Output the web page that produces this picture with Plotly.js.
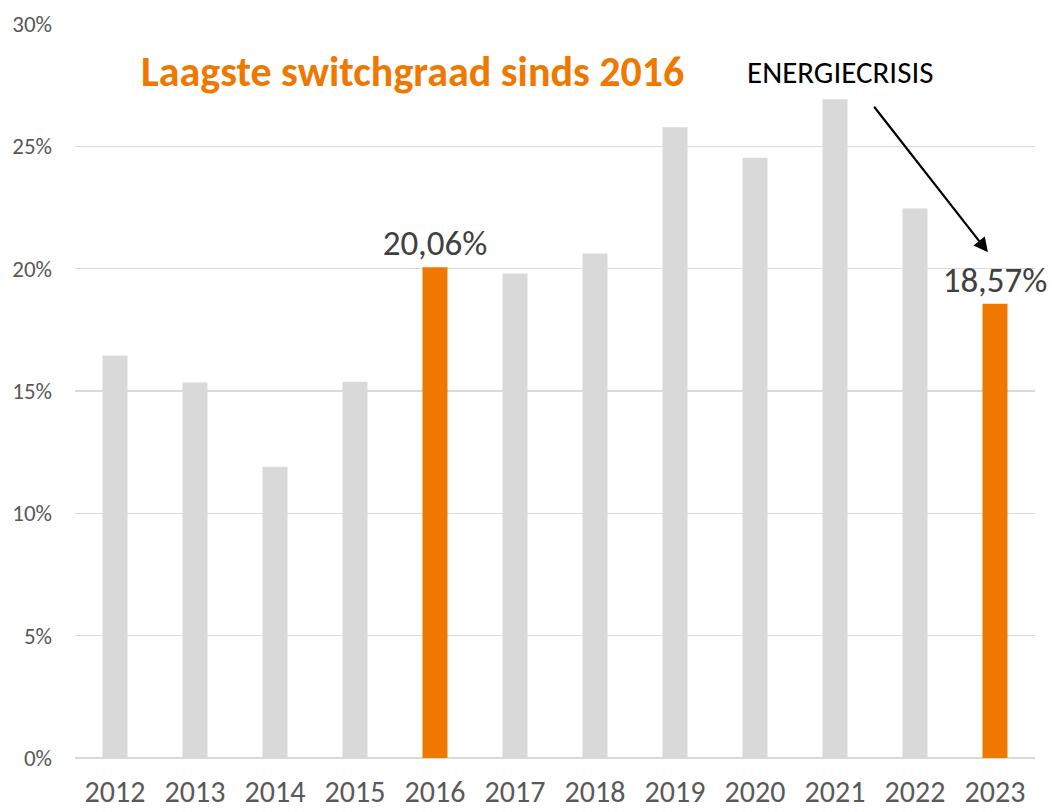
<!DOCTYPE html>
<html>
<head>
<meta charset="utf-8">
<script src="https://cdn.plot.ly/plotly-3.0.1.min.js"></script>
<style>html,body{margin:0;padding:0;background:#fff;}#chart{width:1053px;height:812px;}</style>
</head>
<body>
<div id="chart"></div>
<script>
const years = ['2012','2013','2014','2015','2016','2017','2018','2019','2020','2021','2022','2023'];
const switchRate = [16.45, 15.35, 11.9, 15.38, 20.06, 19.8, 20.62, 25.78, 24.53, 26.92, 22.46, 18.57];
const highlighted = ['2016', '2023'];
const titleText = 'Laagste switchgraad sinds 2016';
const noteText = 'ENERGIECRISIS';
const yTicks = [0, 5, 10, 15, 20, 25, 30];
const yTickLabels = ['0%', '5%', '10%', '15%', '20%', '25%', '30%'];

const ORANGE = '#ee7800';
const GREY = '#d9d9d9';
const FONT = 'Carlito, Calibri, Lato, sans-serif';

const colors = years.map(y => highlighted.includes(y) ? ORANGE : GREY);
const labels = years.map((y, i) => highlighted.includes(y) ? switchRate[i].toFixed(2).replace('.', ',') + '%' : '');

const trace = {
  type: 'bar',
  x: years,
  y: switchRate,
  marker: {color: colors},
  text: labels,
  textposition: 'outside',
  constraintext: 'none',
  textfont: {family: FONT, size: 35, color: '#404040'},
  cliponaxis: false,
  hoverinfo: 'none'
};

const layout = {
  width: 1053, height: 812,
  margin: {l: 75, r: 18, t: 24, b: 54},
  paper_bgcolor: '#fff', plot_bgcolor: '#fff',
  bargap: 0.6875,
  showlegend: false,
  font: {family: FONT, color: '#595959'},
  xaxis: {
    type: 'category',
    tickfont: {family: FONT, size: 30, color: '#595959'},
    showgrid: false, zeroline: false, showline: false, ticks: '',
    ticklabelstandoff: 13
  },
  yaxis: {
    range: [0, 30],
    tickvals: yTicks, ticktext: yTickLabels,
    tickfont: {family: FONT, size: 23, color: '#595959'},
    showgrid: true, gridcolor: '#d9d9d9', gridwidth: 1.5,
    zeroline: true, zerolinecolor: '#d9d9d9', zerolinewidth: 1.5,
    showline: false, ticks: '', ticklabelstandoff: 22
  },
  annotations: [
    {xref: 'paper', yref: 'paper', x: 0.352, y: 0.935, xanchor: 'center', yanchor: 'middle',
     text: '<b>' + titleText + '</b>', showarrow: false,
     font: {family: FONT, size: 42, color: ORANGE}},
    {xref: 'paper', yref: 'paper', x: 0.797, y: 0.935, xanchor: 'center', yanchor: 'middle',
     text: noteText, showarrow: false,
     font: {family: FONT, size: 31, color: '#000'}},
    {xref: 'paper', yref: 'paper', x: 0.951, y: 0.689, text: '', showarrow: true,
     ax: -115, ay: -147, arrowhead: 2, arrowsize: 1.3, arrowwidth: 2.2, arrowcolor: '#000', standoff: 0}
  ]
};

Plotly.newPlot('chart', [trace], layout, {displayModeBar: false, staticPlot: true});
</script>
</body>
</html>
